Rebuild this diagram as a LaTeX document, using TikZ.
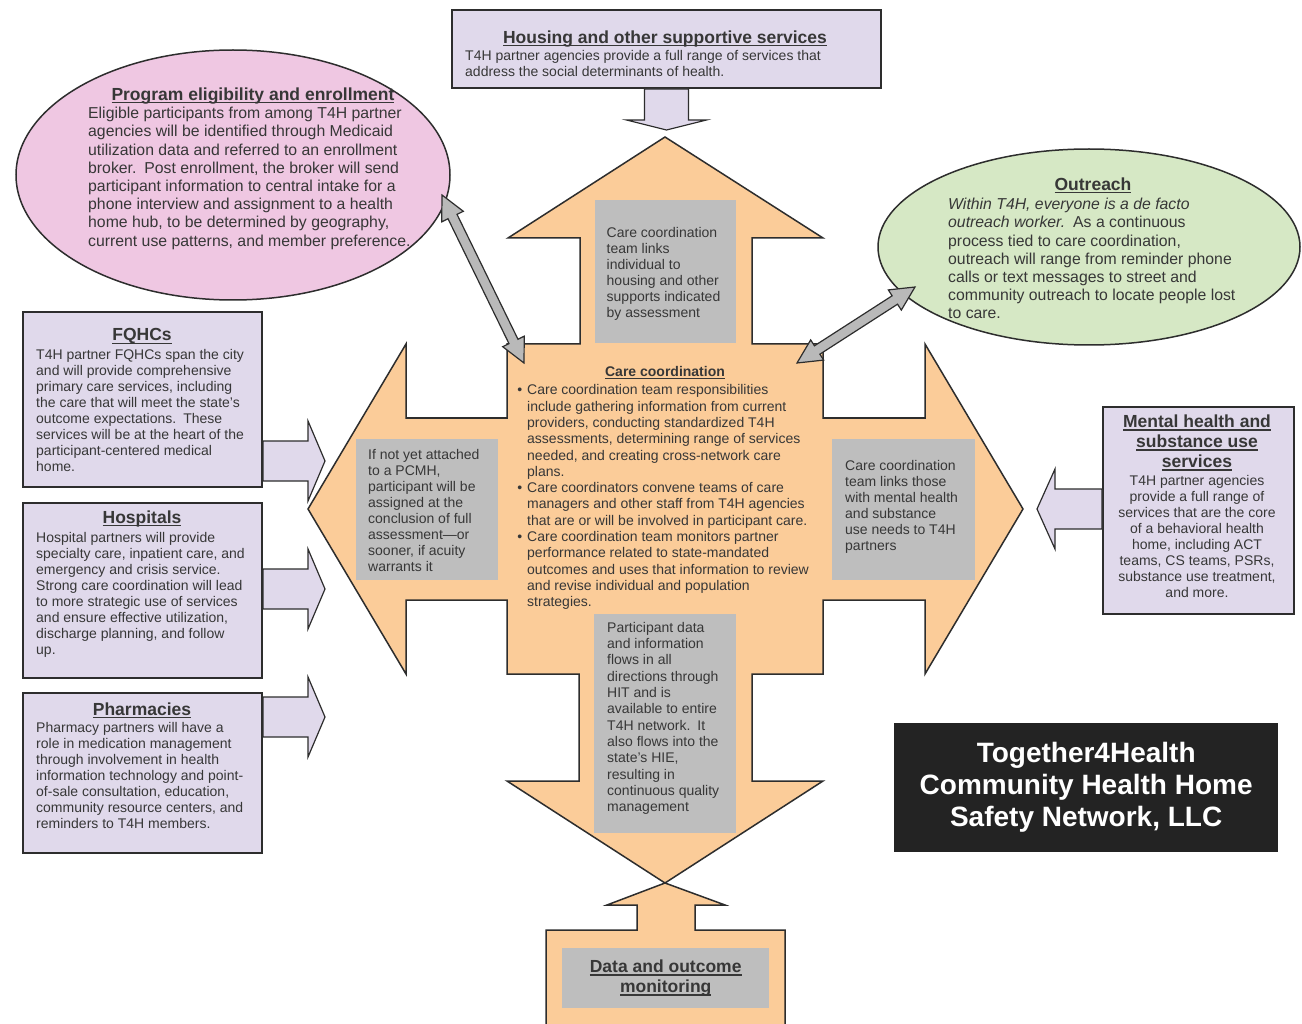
\documentclass[tikz,border=0pt]{standalone}
\usepackage{fontspec}
\setmainfont{Liberation Sans}
\usetikzlibrary{shapes.geometric,calc}

\definecolor{lav}{RGB}{224,217,235}
\definecolor{peach}{RGB}{251,204,153}
\definecolor{pinkel}{RGB}{239,199,226}
\definecolor{greenel}{RGB}{214,232,197}
\definecolor{boxgrey}{RGB}{190,190,190}
\definecolor{arrowgrey}{RGB}{185,185,185}
\definecolor{edge}{RGB}{45,45,45}
\definecolor{ink}{RGB}{55,55,55}
\definecolor{logobg}{RGB}{35,35,35}

\newcommand\bodyfont{\fontsize{14}{16.3}\selectfont}
\newcommand\boxfont{\fontsize{14}{16}\selectfont}
\newcommand\ovalfont{\fontsize{15.8}{18.2}\selectfont}
\newcommand\headfont{\fontsize{17.5}{20}\selectfont\bfseries}
\newcommand\undl[1]{\setbox0\hbox{#1}\rlap{\vrule height -1.6pt depth 3pt width \wd0}\box0}
\newcommand\bul{\llap{\textbullet\hspace{5pt}}}

\newcommand\twowayarrow[3]{%
  \coordinate (#1a) at ($(#2)!24pt!(#3)$);
  \coordinate (#1b) at ($(#3)!24pt!(#2)$);
  \draw[dblarrow] (#2) -- ($(#1a)!12pt!90:(#3)$) -- ($(#1a)!5pt!90:(#3)$)
    -- ($(#1b)!5pt!-90:(#2)$) -- ($(#1b)!12pt!-90:(#2)$) -- (#3)
    -- ($(#1b)!12pt!90:(#2)$) -- ($(#1b)!5pt!90:(#2)$)
    -- ($(#1a)!5pt!-90:(#3)$) -- ($(#1a)!12pt!-90:(#3)$) -- cycle;}

\tikzset{
  lavbox/.style={draw=edge, line width=2pt, fill=lav, inner sep=0, anchor=north west},
  lavarrow/.style={draw=edge, line width=1.2pt, fill=lav},
  oval/.style={ellipse, draw=edge, line width=1.5pt, inner sep=0},
  crossarrow/.style={draw=edge, line width=1.5pt, fill=peach},
  greyrect/.style={fill=boxgrey, inner sep=0, anchor=north west},
  dblarrow/.style={draw=edge, line width=1.2pt, fill=arrowgrey},
  txt/.style={inner sep=0, anchor=north west, align=left, text=ink, font=\bodyfont},
  boxtxt/.style={txt, font=\boxfont},
  ovaltxt/.style={txt, font=\ovalfont},
  ttl/.style={inner sep=0, anchor=base, text=ink, font=\headfont},
}

\begin{document}
\begin{tikzpicture}[x=1pt,y=-1pt]
\useasboundingbox (0,0) rectangle (1302,1024);
\fill[white] (0,0) rectangle (1302,1024);
\clip (0,0) rectangle (1302,1024);

\node[oval, fill=pinkel, minimum width=434, minimum height=250] (elig) at (233,175) {};
\node[oval, fill=greenel, minimum width=422, minimum height=196] (outr) at (1089,247) {};

\draw[crossarrow] (665,137) -- (823,238) -- (752,238) -- (752,344) -- (823,344) -- (823,418) -- (925,418) -- (925,344)
  -- (1023,509) -- (925,674) -- (925,600) -- (823,600) -- (823,674) -- (752,674) -- (752,781) -- (823,781)
  -- (665,883) -- (507,781) -- (579,781) -- (579,674) -- (507,674) -- (507,600) -- (406,600) -- (406,674)
  -- (308,509) -- (406,344) -- (406,418) -- (507,418) -- (507,344) -- (580,344) -- (580,238) -- (508,238) -- cycle;
\draw[crossarrow] (546,1030) -- (546,930) -- (637,930) -- (637,905) -- (607,905) -- (665,883) -- (725,905)
  -- (695,905) -- (695,930) -- (785,930) -- (785,1030) -- cycle;

\node[greyrect, minimum width=141, minimum height=143] (g-up) at (595,200) {};
\node[greyrect, minimum width=142, minimum height=141] (g-left) at (356,439) {};
\node[greyrect, minimum width=143, minimum height=141] (g-right) at (832,439) {};
\node[greyrect, minimum width=142, minimum height=219] (g-down) at (594,614) {};
\node[greyrect, minimum width=207, minimum height=60, align=center, text=ink, font=\headfont] (g-data) at (562,948)
  {\undl{Data and outcome}\\\undl{monitoring}};

\node[boxtxt] (g-up-txt) at (606.5,227.5) {Care coordination\\team links\\individual to\\housing and other\\supports indicated\\by assessment};
\node[boxtxt] (g-left-txt) at (368,449.5) {If not yet attached\\to a PCMH,\\participant will be\\assigned at the\\conclusion of full\\assessment—or\\sooner, if acuity\\warrants it};
\node[boxtxt] (g-right-txt) at (845,460) {Care coordination\\team links those\\with mental health\\and substance\\use needs to T4H\\partners};
\node[txt] (g-down-txt) at (607,622) {Participant data\\and information\\flows in all\\directions through\\HIT and is\\available to entire\\T4H network.\enspace It\\also flows into the\\state's HIE,\\resulting in\\continuous quality\\management};

\node[ttl, font=\fontsize{14}{16}\selectfont\bfseries] (cc-t) at (665,376.5) {\undl{Care coordination}};
\node[txt] (cc-txt) at (527,384.5) {\bul Care coordination team responsibilities\\include gathering information from current\\providers, conducting standardized T4H\\assessments, determining range of services\\needed, and creating cross-network care\\plans.\\\bul Care coordinators convene teams of care\\managers and other staff from T4H agencies\\that are or will be involved in participant care.\\\bul Care coordination team monitors partner\\performance related to state-mandated\\outcomes and uses that information to review\\and revise individual and population\\strategies.};

\node[ttl] (elig-t) at (253,100.5) {\undl{Program eligibility and enrollment}};
\node[ovaltxt] (elig-txt) at (88,107) {Eligible participants from among T4H partner\\agencies will be identified through Medicaid\\utilization data and referred to an enrollment\\broker.\enspace Post enrollment, the broker will send\\participant information to central intake for a\\phone interview and assignment to a health\\home hub, to be determined by geography,\\current use patterns, and member preference.};

\node[ttl] (outr-t) at (1093,190.5) {\undl{Outreach}};
\node[ovaltxt] (outr-txt) at (948,198) {\textit{Within T4H, everyone is a de facto}\\\textit{outreach worker.}\enspace As a continuous\\process tied to care coordination,\\outreach will range from reminder phone\\calls or text messages to street and\\community outreach to locate people lost\\to care.};

\node[lavbox, minimum width=429, minimum height=78] (house) at (451,9) {};
\node[ttl] (house-t) at (665,43.3) {\undl{Housing and other supportive services}};
\node[txt] (house-txt) at (465,50) {T4H partner agencies provide a full range of services that\\address the social determinants of health.};
\draw[lavarrow] (house.south) ++(-22,0) -- ++(0,31) -- ++(-18,0) -- ++(40,10) -- ++(40,-10) -- ++(-18,0) -- ++(0,-31) -- cycle;

\node[lavbox, minimum width=239, minimum height=175] (fqhc) at (22,311) {};
\node[ttl] (fqhc-t) at (142,341) {\undl{FQHCs}};
\node[boxtxt] (fqhc-txt) at (36,349.5) {T4H partner FQHCs span the city\\and will provide comprehensive\\primary care services, including\\the care that will meet the state's\\outcome expectations.\enspace These\\services will be at the heart of the\\participant-centered medical\\home.};
\draw[lavarrow] (fqhc.east |- 0,441) -- (308,441) -- (308,421) -- (325,461) -- (308,501) -- (308,481) -- (fqhc.east |- 0,481) -- cycle;

\node[lavbox, minimum width=239, minimum height=175] (hosp) at (22,502) {};
\node[ttl] (hosp-t) at (142,523) {\undl{Hospitals}};
\node[boxtxt] (hosp-txt) at (36,532.5) {Hospital partners will provide\\specialty care, inpatient care, and\\emergency and crisis service.\\Strong care coordination will lead\\to more strategic use of services\\and ensure effective utilization,\\discharge planning, and follow\\up.};
\draw[lavarrow] (hosp.east |- 0,569) -- (308,569) -- (308,549) -- (325,589) -- (308,629) -- (308,609) -- (hosp.east |- 0,609) -- cycle;

\node[lavbox, minimum width=239, minimum height=160] (pharm) at (22,692) {};
\node[ttl] (pharm-t) at (142,715) {\undl{Pharmacies}};
\node[boxtxt] (pharm-txt) at (36,722.5) {Pharmacy partners will have a\\role in medication management\\through involvement in health\\information technology and point-\\of-sale consultation, education,\\community resource centers, and\\reminders to T4H members.};
\draw[lavarrow] (pharm.east |- 0,697) -- (308,697) -- (308,677) -- (325,717) -- (308,757) -- (308,737) -- (pharm.east |- 0,737) -- cycle;

\node[lavbox, minimum width=191, minimum height=207] (mental) at (1102,406) {};
\node[inner sep=0, anchor=north, align=center, text=ink, font=\headfont] (mental-t) at (1197,415) {\undl{Mental health and}\\\undl{substance use}\\\undl{services}};
\node[boxtxt, anchor=north, align=center] (mental-txt) at (1197,475) {T4H partner agencies\\provide a full range of\\services that are the core\\of a behavioral health\\home, including ACT\\teams, CS teams, PSRs,\\substance use treatment,\\and more.};
\draw[lavarrow] (mental.west |- 0,489) -- (1055,489) -- (1055,469) -- (1037,509) -- (1055,549) -- (1055,529) -- (mental.west |- 0,529) -- cycle;

\coordinate (elig-end) at (442,195);
\coordinate (cc-nw) at (524,363);
\coordinate (outr-end) at (915,287);
\coordinate (cc-ne) at (797,363);
\twowayarrow{pa}{elig-end}{cc-nw}
\twowayarrow{pb}{outr-end}{cc-ne}

\node[fill=logobg, minimum width=384, minimum height=129, inner sep=0, anchor=north west, text=white, align=center,
  font=\fontsize{28}{32}\selectfont\bfseries] (logo) at (894,723) {Together4Health\\Community Health Home\\Safety Network, LLC};
\end{tikzpicture}
\end{document}
